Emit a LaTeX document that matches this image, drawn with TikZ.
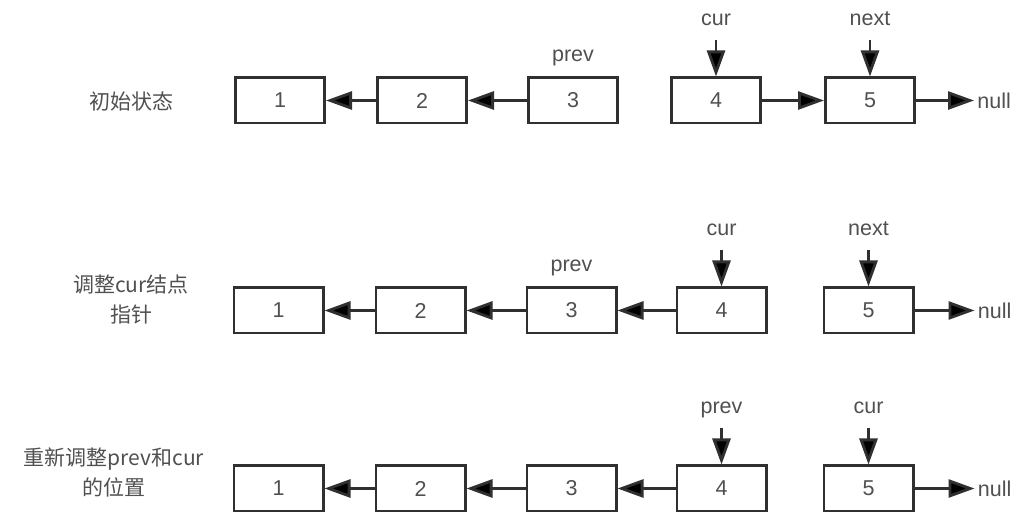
\documentclass[tikz,border=0pt]{standalone}
\usepackage{fontspec}
\setmainfont{Liberation Sans}
\newfontfamily\cjk{Noto Sans CJK SC}
\usetikzlibrary{arrows.meta,positioning}
\definecolor{linegray}{HTML}{303030}
\definecolor{textgray}{HTML}{505050}
\tikzset{
    every picture/.style={
        x=1pt,y=1pt,line width=2.8pt,node distance=50pt,
        >={Triangle[length=26pt,width=18pt]},
        cell/.style={draw=linegray,minimum width=89.2pt,minimum height=45.2pt,inner sep=0pt,
            text=textgray,font=\fontsize{21.5}{24}\selectfont},
        ptr/.style={text=textgray,font=\fontsize{21.5}{24}\selectfont,inner sep=0pt,
            text height=9pt,text depth=3pt},
        nullnode/.style={ptr,inner xsep=2pt,text height=17pt,text depth=0pt},
        rowlabel/.style={text=textgray,font=\cjk\fontsize{21}{30}\selectfont,align=center},
        link/.style={->,draw=linegray},
        point/.style={link,shorten <=10.5pt}
    }
}

\begin{document}
\begin{tikzpicture}
    \useasboundingbox (0,0) rectangle (1036,530);

    \node[rowlabel]  (t1) at (131,429) {初始状态};
    \node[cell]      (a1) at (280,429.5) {1};
    \node[cell]      (a2) [right=50pt of a1] {2};
    \node[cell]      (a3) [right=59pt of a2] {3};
    \node[cell]      (a4) [right=51pt of a3] {4};
    \node[cell]      (a5) [right=62pt of a4] {5};
    \node[nullnode]  (a6) [right=58pt of a5] {null};
    \node[ptr]       (prevA) [above=11pt of a3] {prev};
    \node[ptr]       (curA)  [above=47pt of a4] {cur};
    \node[ptr]       (nextA) [above=47pt of a5] {next};
    \path[link] (a2) edge (a1)
                (a3) edge (a2)
                (a4) edge (a5)
                (a5) edge (a6);
    \path[point] (curA) edge (a4)
                 (nextA) edge (a5);

    \node[rowlabel]  (t2) at (131,230) {调整cur结点\\指针};
    \node[cell]      (b1) at (278.5,219.5) {1};
    \node[cell]      (b2) [right=50pt of b1] {2};
    \node[cell]      (b3) [right=59pt of b2] {3};
    \node[cell]      (b4) [right=58pt of b3] {4};
    \node[cell]      (b5) [right=55pt of b4] {5};
    \node[nullnode]  (b6) [right=60pt of b5] {null};
    \node[ptr]       (prevB) [above=11pt of b3] {prev};
    \node[ptr]       (curB)  [above=47pt of b4] {cur};
    \node[ptr]       (nextB) [above=47pt of b5] {next};
    \path[link] (b2) edge (b1)
                (b3) edge (b2)
                (b4) edge (b3)
                (b5) edge (b6);
    \path[point] (curB) edge (b4)
                 (nextB) edge (b5);

    \node[rowlabel]  (t3) at (114,57.5) {重新调整prev和cur\\的位置};
    \node[cell]      (c1) at (278.5,41.5) {1};
    \node[cell]      (c2) [right=50pt of c1] {2};
    \node[cell]      (c3) [right=59pt of c2] {3};
    \node[cell]      (c4) [right=58pt of c3] {4};
    \node[cell]      (c5) [right=55pt of c4] {5};
    \node[nullnode]  (c6) [right=60pt of c5] {null};
    \node[ptr]       (prevC) [above=47pt of c4] {prev};
    \node[ptr]       (curC)  [above=47pt of c5] {cur};
    \path[link] (c2) edge (c1)
                (c3) edge (c2)
                (c4) edge (c3)
                (c5) edge (c6);
    \path[point] (prevC) edge (c4)
                 (curC) edge (c5);
\end{tikzpicture}
\end{document}
